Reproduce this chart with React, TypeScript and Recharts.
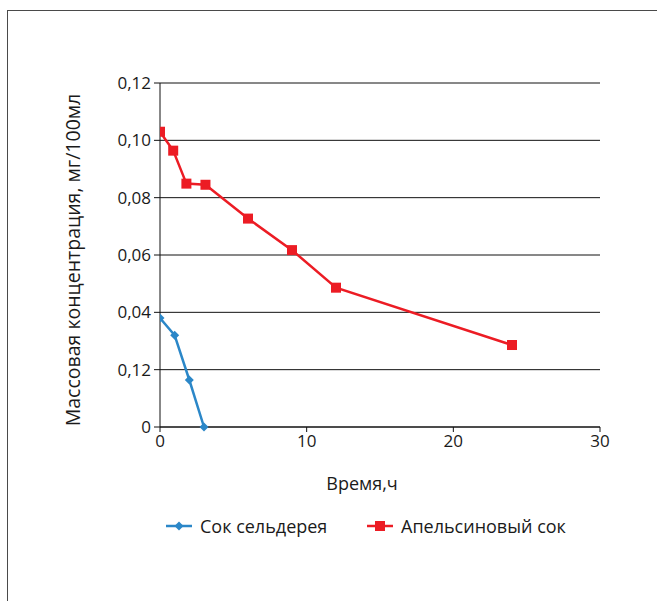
import React from 'react';
import { LineChart, Line, XAxis, YAxis, CartesianGrid, Legend } from 'recharts';

// ── data ─────────────────────────────────────────────────────────────────────

const CELERY_T = [0, 1, 2, 3];
const CELERY_C = [0.038, 0.032, 0.0164, 0];

const ORANGE_T = [0, 0.9, 1.8, 3.1, 6, 9, 12, 24];
const ORANGE_C = [0.103, 0.0964, 0.0849, 0.0845, 0.0727, 0.0617, 0.0486, 0.0286];

const X_TICKS = [0, 10, 20, 30];
const Y_TICKS = [0, 0.02, 0.04, 0.06, 0.08, 0.1, 0.12];
// labels as printed on the original (second one really says 0,12)
const Y_LABELS = ['0', '0,12', '0,04', '0,06', '0,08', '0,10', '0,12'];

const celery = CELERY_T.map((t, i) => ({ t, c: CELERY_C[i] }));
const orange = ORANGE_T.map((t, i) => ({ t, c: ORANGE_C[i] }));

const BLUE = '#2b87c8';
const RED = '#ec1c24';
const FONT = "'Open Sans', 'Noto Sans', sans-serif";
const TICK = { fill: '#1a1a1a', fontSize: 17, fontFamily: FONT };

// ── markers ──────────────────────────────────────────────────────────────────

function Diamond(props: any) {
  const { cx, cy } = props;
  if (cx == null || cy == null) return null;
  const r = 4.5;
  return <polygon points={`${cx},${cy - r} ${cx + r},${cy} ${cx},${cy + r} ${cx - r},${cy}`} fill={BLUE} />;
}

function Square(props: any) {
  const { cx, cy } = props;
  if (cx == null || cy == null) return null;
  return <rect x={cx - 5} y={cy - 5} width={10} height={10} fill={RED} />;
}

function LegendBox() {
  const item = (color: string, label: string, left: number, square: boolean) => (
    <div style={{ position: 'absolute', left, top: 0, display: 'flex', alignItems: 'center' }}>
      <svg width={34} height={22}>
        <line x1={0} y1={11} x2={26} y2={11} stroke={color} strokeWidth={2.5} />
        {square
          ? <rect x={8} y={6} width={10} height={10} fill={color} />
          : <polygon points="13,6.5 17.5,11 13,15.5 8.5,11" fill={color} />}
      </svg>
      <span style={{ fontFamily: FONT, fontSize: 18, color: '#1a1a1a', whiteSpace: 'nowrap' }}>{label}</span>
    </div>
  );
  return (
    <div style={{ position: 'relative', height: 22 }}>
      {item(BLUE, 'Сок сельдерея', 0, false)}
      {item(RED, 'Апельсиновый сок', 201, true)}
    </div>
  );
}

// ── chart ────────────────────────────────────────────────────────────────────

export default function App() {
  return (
    <div style={{ position: 'absolute', left: 0, top: 0, width: 657, height: 601, overflow: 'hidden', background: '#fff' }}>
      <div style={{ position: 'absolute', left: 7, top: 10, width: 700, height: 700, border: '1.5px solid #4a4a4a' }} />
      <div style={{ position: 'absolute', left: 0, top: 0 }}>
        <LineChart width={657} height={601} margin={{ top: 83, right: 57, bottom: 122, left: 100 }}>
          <CartesianGrid vertical={false} stroke="#111" strokeWidth={1} />
          <XAxis
            type="number"
            dataKey="t"
            domain={[0, 30]}
            ticks={X_TICKS}
            allowDataOverflow
            tick={TICK}
            tickSize={5}
            tickMargin={3}
            height={30}
            axisLine={{ stroke: '#111' }}
            tickLine={{ stroke: '#111' }}
            label={{ value: 'Время,ч', position: 'center', dx: -18, dy: 42, fill: '#1a1a1a', fontSize: 18, fontFamily: FONT }}
          />
          <YAxis
            type="number"
            domain={[0, 0.12]}
            ticks={Y_TICKS}
            interval={0}
            tickFormatter={(v: number) => Y_LABELS[Y_TICKS.findIndex(t => Math.abs(t - v) < 1e-9)] ?? ''}
            tick={TICK}
            tickSize={6}
            tickMargin={3}
            width={60}
            axisLine={{ stroke: '#111' }}
            tickLine={{ stroke: '#111' }}
            label={{ value: 'Массовая концентрация, мг/100мл', angle: -90, position: 'center', dx: -57, dy: 5, fill: '#1a1a1a', fontSize: 19.5, fontFamily: FONT }}
          />
          <Legend
            content={() => <LegendBox />}
            wrapperStyle={{ position: 'absolute', left: 166, top: 514, width: 440, height: 22 }}
          />
          <Line
            data={celery}
            dataKey="c"
            name="Сок сельдерея"
            stroke={BLUE}
            strokeWidth={2.5}
            dot={<Diamond />}
            activeDot={false}
            isAnimationActive={false}
          />
          <Line
            data={orange}
            dataKey="c"
            name="Апельсиновый сок"
            stroke={RED}
            strokeWidth={2.5}
            dot={<Square />}
            activeDot={false}
            isAnimationActive={false}
          />
        </LineChart>
      </div>
    </div>
  );
}
